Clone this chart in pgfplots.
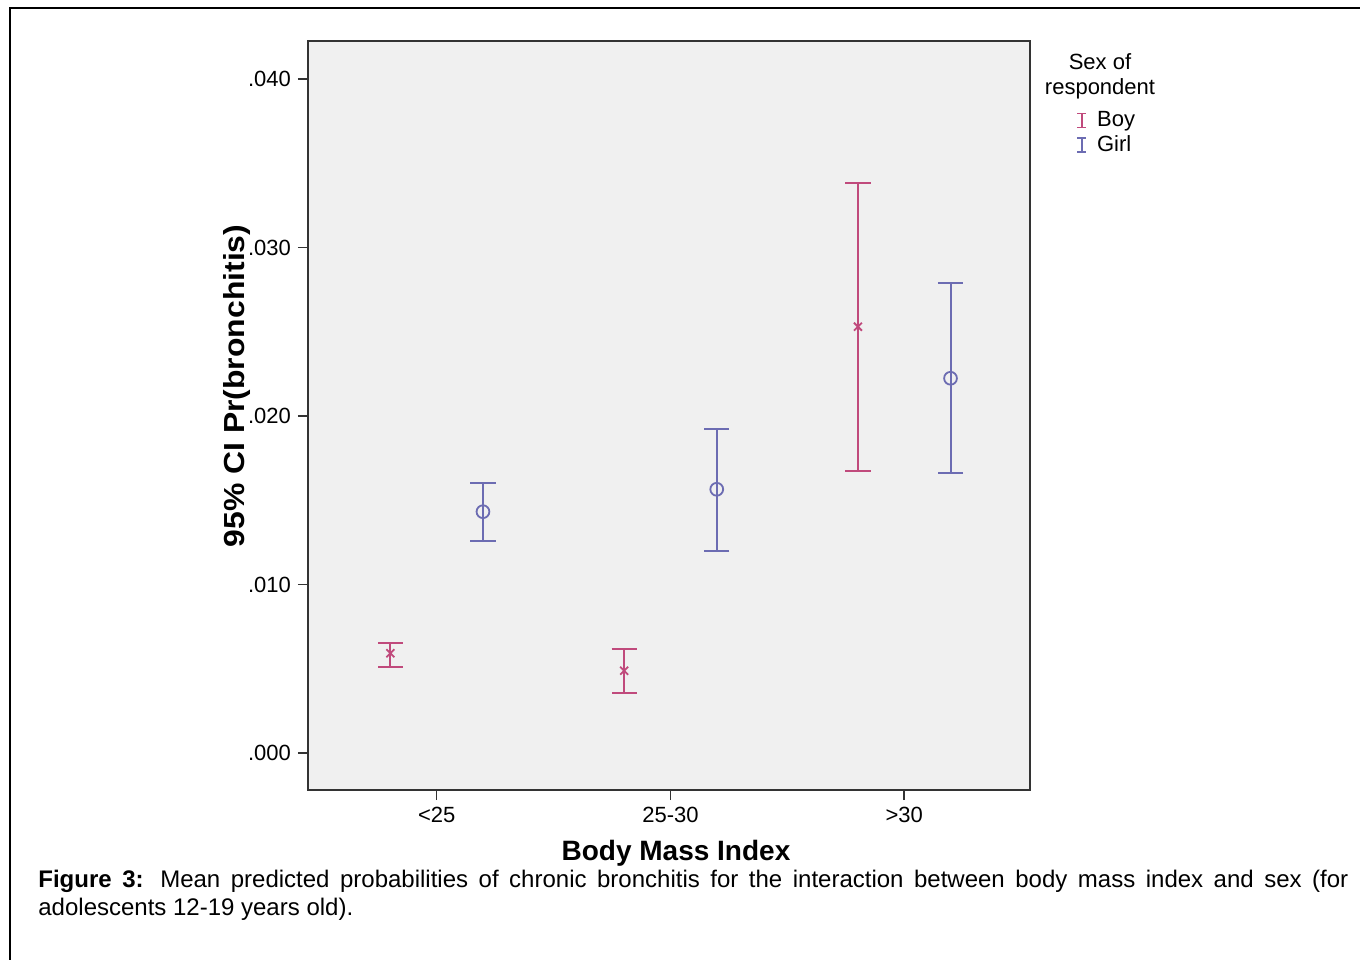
\documentclass[border=0pt]{standalone}
\usepackage{fontspec}
\setmainfont{Liberation Sans}
\usepackage{pgfplots}
\pgfplotsset{compat=1.18}
\definecolor{boyc}{RGB}{192,74,124}
\definecolor{girlc}{RGB}{108,108,178}
\definecolor{bgc}{RGB}{240,240,240}
\begin{document}
\begin{tikzpicture}
\useasboundingbox (-154pt,-84.5pt) rectangle (526pt,395pt);
\draw[line width=0.7pt] (-149pt,-90pt) -- (-149pt,391pt) -- (530pt,391pt);
\begin{axis}[
  at={(0pt,0pt)}, anchor=south west,
  scale only axis, width=361pt, height=374.5pt,
  xmin=-0.5504, xmax=2.538, ymin=-0.0022, ymax=0.04226,
  scaled y ticks=false, scaled x ticks=false,
  axis background/.style={fill=bgc},
  axis line style={black!80, line width=0.8pt},
  xtick={0,1,2}, xticklabels={\textless25,25-30,\textgreater30},
  ytick={0,0.01,0.02,0.03,0.04}, yticklabels={.000,.010,.020,.030,.040},
  tick align=outside, xtick pos=lower, ytick pos=left,
  major tick length=5pt,
  tick style={black!80, line width=0.8pt},
  tick label style={font=\fontsize{11}{13}\selectfont},
  legend image code/.code={\draw[#1] (0pt,-3.5pt) -- (0pt,3.5pt) (-2.3pt,-3.5pt) -- (2.3pt,-3.5pt) (-2.3pt,3.5pt) -- (2.3pt,3.5pt);},
  legend style={draw=none, fill=none, at={(rel axis cs:1,1)}, anchor=north west, xshift=23pt, yshift=-34pt,
    font=\fontsize{11}{12.5}\selectfont, row sep=1pt, column sep=4pt, inner sep=0pt, nodes={inner sep=1pt}},
  legend cell align=left,
]
\addplot[boyc, only marks, mark=x, mark size=2.8pt, mark options={line width=0.9pt},
  error bars/y dir=both, error bars/y explicit,
  error bars/error bar style={line width=1pt},
  error bars/error mark options={boyc, line width=1pt, mark size=6.3pt, rotate=90},
  forget plot]
coordinates {
(-0.198,0.005917) += (0,0.000629) -= (0,0.000795)
(0.802,0.00488) += (0,0.00129) -= (0,0.00130)
(1.802,0.0253) += (0,0.00851) -= (0,0.00856)
};
\addplot[girlc, only marks, mark=o, mark size=3.2pt, mark options={line width=0.9pt},
  error bars/y dir=both, error bars/y explicit,
  error bars/error bar style={line width=1pt},
  error bars/error mark options={girlc, line width=1pt, mark size=6.3pt, rotate=90},
  forget plot]
coordinates {
(0.198,0.01432) += (0,0.00172) -= (0,0.00172)
(1.198,0.01565) += (0,0.00358) -= (0,0.00366)
(2.198,0.02224) += (0,0.00564) -= (0,0.00560)
};
\addlegendimage{boyc, line width=0.75pt}
\addlegendentry{Boy}
\addlegendimage{girlc, line width=0.75pt}
\addlegendentry{Girl}
\end{axis}
\node[align=center, font=\fontsize{11}{12.5}\selectfont] at (396pt,357pt) {Sex of\\respondent};
\node[rotate=90, xscale=1.1, font=\bfseries\fontsize{14.5}{17}\selectfont] at (-35.5pt,202pt) {95\% CI Pr(bronchitis)};
\node[font=\bfseries\fontsize{14}{17}\selectfont] at (184pt,-31.5pt) {Body Mass Index};
\node[anchor=north west, text width=655pt, align=justify, inner sep=0pt, font=\fontsize{12}{14}\selectfont] at (-135pt,-40pt)
  {\textbf{Figure 3:} Mean predicted probabilities of chronic bronchitis for the interaction between body mass index and sex (for\linebreak adolescents 12-19 years old).};
\end{tikzpicture}
\end{document}
